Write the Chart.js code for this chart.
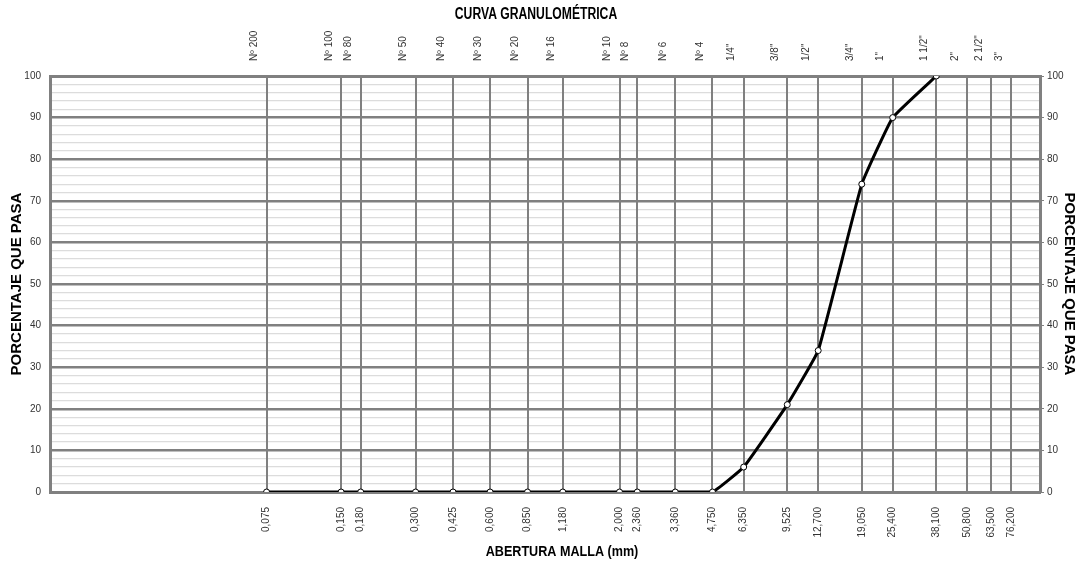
<!DOCTYPE html>
<html>
<head>
<meta charset="utf-8">
<script src="https://cdn.jsdelivr.net/npm/chart.js@4.4.1/dist/chart.umd.min.js"></script>
<style>
  html, body { margin: 0; padding: 0; background: #ffffff; }
  canvas { display: block; }
</style>
</head>
<body>
<canvas id="c" width="1078" height="562"></canvas>
<script>
// ---- data ----
const sieveSizes = [0.075, 0.150, 0.180, 0.300, 0.425, 0.600, 0.850, 1.180, 2.000, 2.360, 3.360, 4.750, 6.350, 9.525, 12.700, 19.050, 25.400, 38.100, 50.800, 63.500, 76.200];
const sizeLabels = ['0,075','0,150','0,180','0,300','0,425','0,600','0,850','1,180','2,000','2,360','3,360','4,750','6,350','9,525','12,700','19,050','25,400','38,100','50,800','63,500','76,200'];
const sieveNames = ['Nº 200','Nº 100','Nº 80','Nº 50','Nº 40','Nº 30','Nº 20','Nº 16','Nº 10','Nº 8','Nº 6','Nº 4','1/4"','3/8"','1/2"','3/4"','1"','1 1/2"','2"','2 1/2"','3"'];
const percentPassing = [0, 0, 0, 0, 0, 0, 0, 0, 0, 0, 0, 0, 6, 21, 34, 74, 90, 100, null, null, null];
const yTicks = [0, 10, 20, 30, 40, 50, 60, 70, 80, 90, 100];
const chartTitle = 'CURVA GRANULOMÉTRICA';
const xTitle = 'ABERTURA MALLA (mm)';
const yTitle = 'PORCENTAJE QUE PASA';

const points = [];
sieveSizes.forEach((s, i) => { if (percentPassing[i] !== null) points.push({ x: s, y: percentPassing[i] }); });

const sans = "'Liberation Sans', Arial, sans-serif";
const GRID = '#808080';

function sieveTicks(scale) {
  scale.ticks = sieveSizes.map(v => ({ value: v }));
}

// Condensed text titles (chart title and x-axis title)
const titlesPlugin = {
  id: 'titles',
  afterDraw(chart) {
    const ctx = chart.ctx;
    const area = chart.chartArea;
    function condensed(text, cx, cy, size, sx) {
      ctx.save();
      ctx.translate(cx, cy);
      ctx.scale(sx, 1);
      ctx.font = 'bold ' + size + 'px ' + sans;
      ctx.fillStyle = '#000000';
      ctx.textAlign = 'center';
      ctx.textBaseline = 'middle';
      ctx.fillText(text, 0, 0);
      ctx.restore();
    }
    condensed(chartTitle, (area.left + area.right) / 2 - 9, area.top - 61, 16, 0.76);
    condensed(xTitle, (area.left + area.right) / 2 + 17, area.bottom + 60, 14, 0.9);
  }
};

new Chart(document.getElementById('c'), {
  type: 'line',
  data: {
    datasets: [{
      data: points,
      borderColor: '#000000',
      borderWidth: 3,
      tension: 0.1,
      pointRadius: 3,
      pointBackgroundColor: '#ffffff',
      pointBorderColor: '#000000',
      pointBorderWidth: 1,
      xAxisID: 'x',
      yAxisID: 'y'
    }]
  },
  plugins: [titlesPlugin],
  options: {
    responsive: false,
    animation: false,
    layout: { padding: 0 },
    plugins: { legend: { display: false }, tooltip: { enabled: false }, title: { display: false } },
    scales: {
      x: {
        type: 'logarithmic',
        position: 'bottom',
        min: 0.01, max: 100,
        afterBuildTicks: sieveTicks,
        afterFit: s => { s.height = 70; },
        ticks: {
          autoSkip: false, minRotation: 90, maxRotation: 90, padding: 15,
          color: '#333333', font: { family: sans, size: 10 },
          callback: (v, i) => sizeLabels[i]
        },
        grid: { color: GRID, lineWidth: 2, drawTicks: false, z: -1 },
        border: { color: GRID, width: 3 }
      },
      xTop: {
        type: 'logarithmic',
        position: 'top',
        min: 0.01, max: 100,
        afterBuildTicks: sieveTicks,
        afterFit: s => { s.height = 76; },
        ticks: {
          autoSkip: false, minRotation: 90, maxRotation: 90, padding: 15,
          color: '#333333', font: { family: sans, size: 10 },
          callback: (v, i) => sieveNames[i]
        },
        grid: { drawOnChartArea: false, drawTicks: false },
        border: { color: GRID, width: 3 }
      },
      y: {
        position: 'left',
        min: 0, max: 100,
        ticks: {
          stepSize: 2, autoSkip: false, padding: 9,
          color: '#333333', font: { family: sans, size: 10 },
          callback: v => (v % 10 === 0 ? String(v) : '')
        },
        afterFit: s => { s.width = 50; },
        grid: {
          z: -2,
          drawTicks: false,
          color: c => (c.tick && c.tick.value % 10 === 0 ? GRID : '#dcdcdc'),
          lineWidth: c => (c.tick && c.tick.value % 10 === 0 ? 2.5 : 1.2)
        },
        border: { color: GRID, width: 3 },
        title: { display: true, text: yTitle, color: '#000000', font: { family: sans, size: 15, weight: 'bold' }, padding: { top: 8, bottom: 0 } }
      },
      y2: {
        position: 'right',
        min: 0, max: 100,
        afterBuildTicks: s => { s.ticks = yTicks.map(v => ({ value: v })); },
        afterFit: s => { s.width = 38; },
        ticks: {
          autoSkip: false, padding: 3,
          color: '#333333', font: { family: sans, size: 10 }
        },
        grid: { drawOnChartArea: false, tickLength: 4, tickColor: GRID, tickWidth: 1 },
        border: { color: GRID, width: 3 },
        title: { display: true, text: yTitle, color: '#000000', font: { family: sans, size: 15, weight: 'bold' }, padding: { top: 0, bottom: 1 } }
      }
    }
  }
});
</script>
</body>
</html>
